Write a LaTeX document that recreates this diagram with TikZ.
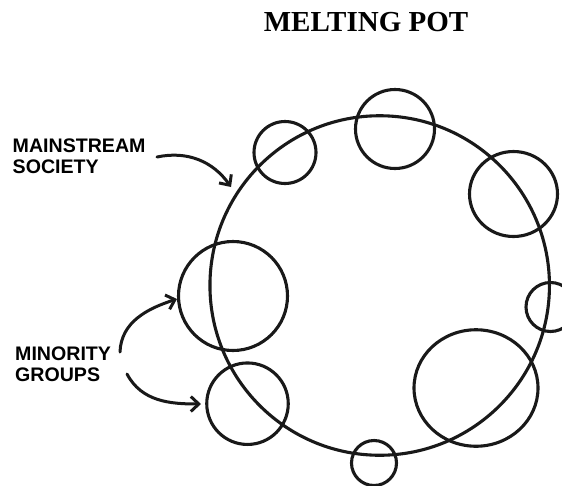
\documentclass[tikz,border=0pt]{standalone}
\usepackage{fontspec}
\setmainfont{Liberation Serif}
\newfontfamily\labelfont{Liberation Sans}
\usetikzlibrary{arrows.meta,shapes.geometric}
\begin{document}
\begin{tikzpicture}[x=1pt,y=-1pt,
  ring/.style={draw=black!90, line width=3.1pt, circle, inner sep=0pt, minimum size=#1},
  oval/.style={draw=black!90, line width=3.1pt, ellipse, inner sep=0pt},
  pointer/.style={draw=black!90, line width=3pt, line cap=round,
    -{Straight Barb[length=8pt,width=15pt,line width=3pt]}},
  lbl/.style={font=\labelfont\bfseries\fontsize{19.6}{21}\selectfont, align=left, inner sep=0pt, anchor=base west}
]
\useasboundingbox (0,0) rectangle (562,485);
\clip (0,0) rectangle (562,485);
\fill[white] (0,0) rectangle (562,485);

\node[font=\bfseries\fontsize{29}{32}\selectfont, anchor=base, inner sep=0pt] (title) at (366,31.5) {MELTING POT};

% mainstream society
\node[ring=339.5pt] (main) at (379.7,285.5) {};

% minority groups
\node[ring=62pt] (c1) at (285,152.5) {};
\node[ring=79pt] (c2) at (395,129) {};
\node[oval, minimum width=88pt, minimum height=85pt] (c3) at (513.5,194) {};
\node[ring=49pt] (c4) at (550.5,307) {};
\node[oval, minimum width=124pt, minimum height=116.5pt] (c5) at (476,388) {};
\node[ring=45pt] (c6) at (374,463) {};
\node[ring=109pt] (c7) at (233,296) {};
\node[ring=81.5pt] (c8) at (247.5,403.7) {};

% labels
\node[lbl] (ms) at (12.5,173) {MAINSTREAM\\SOCIETY};
\node[lbl] (mg) at (15,381.5) {MINORITY\\GROUPS};

\coordinate (msA) at (157,157);
\coordinate (msB) at (231,187);
\coordinate (mgA) at (120,352);
\coordinate (mgB) at (177,299);
\coordinate (mgC) at (127,374);
\coordinate (mgD) at (201,404);

\draw[pointer] (msA) to[out=12,in=125] (msB);
\draw[pointer] (mgA) to[out=88,in=198] (mgB);
\draw[pointer] (mgC) to[out=-62,in=180] (mgD);
\end{tikzpicture}
\end{document}
